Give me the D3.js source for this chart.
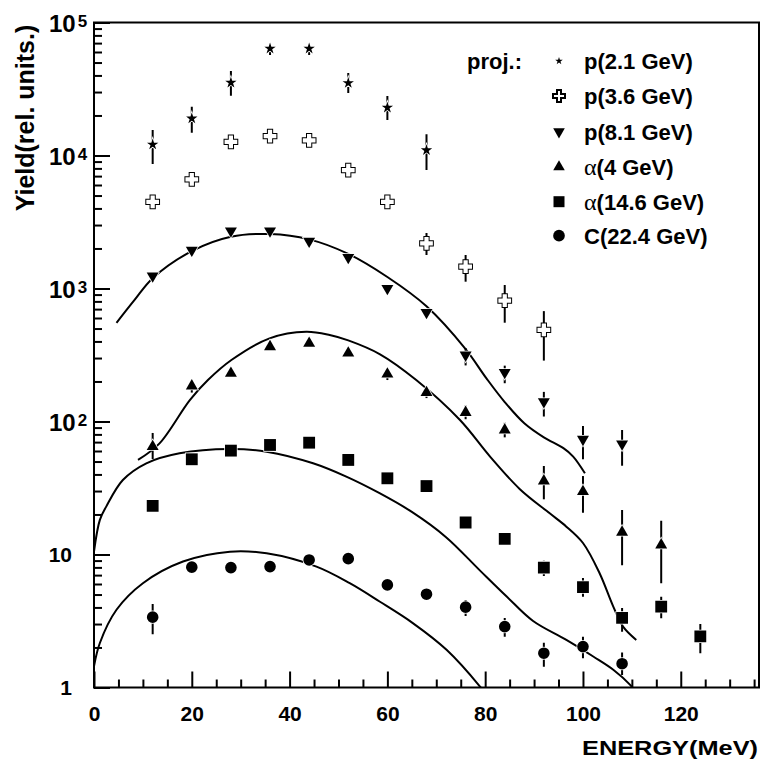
<!DOCTYPE html>
<html>
<head>
<meta charset="utf-8">
<script src="https://cdn.jsdelivr.net/npm/d3@7"></script>
<style>
    body { margin: 0; background: #fff; }
    svg { display: block; font-family: "Liberation Sans", Arial, sans-serif; font-weight: bold; }
</style>
</head>
<body>
<svg id="chart" width="761" height="765"></svg>
<script>
// measured points, energy in MeV, yield in relative units
const p21Energy = [12, 20, 28, 36, 44, 52, 60, 68];
const p21Yield = [12100, 19000, 35300, 63700, 63700, 35100, 22900, 10960];
const p21Lo = [8630, 14830, 28170, 57000, 57000, 29500, 18500, 7780];
const p21Hi = [15560, 23280, 43200, 67700, 67700, 41700, 28000, 14430];

const p36Energy = [12, 20, 28, 36, 44, 52, 60, 68, 76, 84, 92];
const p36Yield = [4480, 6620, 12650, 13960, 13000, 7760, 4480, 2188, 1459, 810, 488];
const p36Lo = [null, null, null, null, null, null, null, 1787, 1125, 553, 287];
const p36Hi = [null, null, null, null, null, null, null, 2612, 1787, 1062, 676];

const p81Energy = [12, 20, 28, 36, 44, 52, 60, 68, 76, 84, 92, 100, 108];
const p81Yield = [1245, 1942, 2714, 2714, 2270, 1712, 1002, 661, 316, 234, 141, 73.5, 67.8];
const p81Lo = [null, null, null, null, null, null, null, null, 264, 194, 109, 52, 46.5];
const p81Hi = [null, null, null, null, null, null, null, null, 357, 263, 167, 92.5, 86.3];

const a4Energy = [12, 20, 28, 36, 44, 52, 60, 68, 76, 84, 92, 100, 108, 116];
const a4Yield = [64.7, 185, 230, 365, 387, 327, 227, 165, 117, 86.3, 35.7, 29.7, 14.7, 11.8];
const a4Lo = [52.2, 165, null, null, null, null, 205, 150, 104, 76, 26, 20.6, 8.3, 6.07];
const a4Hi = [82, 205, null, null, null, null, 250, 182, 132, 98, 46.3, 38.9, 21.6, 17.9];

const a146Energy = [12, 20, 28, 36, 44, 52, 60, 68, 76, 84, 92, 100, 108, 116, 124];
const a146Yield = [23.2, 52, 60.4, 66.6, 69.3, 51.4, 37.4, 32.7, 17.4, 13.1, 7.97, 5.68, 3.34, 4.06, 2.42];
const a146Lo = [null, null, null, null, null, null, null, null, null, null, 6.89, 4.82, 2.63, 3.31, 1.81];
const a146Hi = [null, null, null, null, null, null, null, null, null, null, 8.98, 6.66, 3.96, 4.82, 3.0];

const c224Energy = [12, 20, 28, 36, 44, 52, 60, 68, 76, 84, 92, 100, 108];
const c224Yield = [3.38, 8.03, 7.97, 8.11, 9.1, 9.31, 5.91, 5.03, 4.02, 2.87, 1.81, 2.03, 1.51];
const c224Lo = [2.51, null, null, null, null, null, null, null, 3.45, 2.41, 1.43, 1.66, 1.24];
const c224Hi = [4.25, null, null, null, null, null, null, null, 4.55, 3.33, 2.17, 2.41, 1.83];

// calculated curves as [energy, yield]
const curveP81 = [[4.6, 552], [8.3, 820], [12, 1195], [20, 1910], [28, 2450], [36, 2565], [44, 2340],
    [52, 1820], [60, 1220], [68, 735], [76, 350], [80.3, 210], [84, 140], [88, 97], [92, 76],
    [96, 63], [98, 54.5], [100.4, 40.8]];
const curveA4 = [[9, 51.4], [13.4, 68.5], [19.6, 145], [23.3, 205], [28.1, 290], [35.9, 422],
    [43.4, 473], [48.2, 447], [52, 407], [58.5, 320], [65.9, 205], [74.8, 103],
    [81, 54.5], [87.1, 31], [93.2, 20.4], [96.6, 16.2], [100, 12.2],
    [103.4, 7.23], [106.2, 4.06], [108.2, 2.87], [110.9, 2.28]];
const curveA146 = [[0, 10.5], [1.2, 18.2], [2.5, 22.9], [5.9, 36.3], [10.7, 48.5], [17.5, 57.7],
    [27.8, 62.1], [35.3, 59.3], [44.8, 48.5], [51.6, 38.5], [58.4, 28.9], [65, 20.9],
    [72, 13.5], [78.9, 7.6], [84.4, 4.83], [89.8, 3.16], [96.6, 2.28], [102.1, 1.71],
    [106.2, 1.36], [109.6, 1.05], [111, 0.9]];
const curveC224 = [[0, 1.44], [1.2, 2.16], [4.6, 3.84], [10, 6.08], [18.2, 8.85], [27.8, 10.5],
    [35.3, 10.2], [45.5, 8.1], [52.3, 6.08], [58.4, 4.43], [65.2, 3.05], [72.1, 1.92],
    [78.9, 1.02], [80, 0.9]];

const xMajorTicks = [0, 20, 40, 60, 80, 100, 120];
const yMajorTicks = [1, 10, 100, 1000, 10000, 100000];

const legendTitle = "proj.:";

function buildSeries(name, energy, yields, lo, hi, marker) {
    let points = [];
    for (let i = 0; i < energy.length; i++) {
        points.push({ e: energy[i], v: yields[i], lo: lo[i], hi: hi[i] });
    }
    return { name: name, points: points, marker: marker };
}

let series = [
    buildSeries("p(2.1 GeV)", p21Energy, p21Yield, p21Lo, p21Hi, "star"),
    buildSeries("p(3.6 GeV)", p36Energy, p36Yield, p36Lo, p36Hi, "cross"),
    buildSeries("p(8.1 GeV)", p81Energy, p81Yield, p81Lo, p81Hi, "down"),
    buildSeries("α(4 GeV)", a4Energy, a4Yield, a4Lo, a4Hi, "up"),
    buildSeries("α(14.6 GeV)", a146Energy, a146Yield, a146Lo, a146Hi, "square"),
    buildSeries("C(22.4 GeV)", c224Energy, c224Yield, c224Lo, c224Hi, "circle")
];
let curves = [curveP81, curveA4, curveA146, curveC224];

let svg = d3.select("#chart");
let plotLeft = 94, plotRight = 759, plotTop = 22.5, plotBottom = 687.5;

let x = d3.scaleLinear().domain([0, 136]).range([plotLeft, plotRight]);
let y = d3.scaleLog().domain([1, 1e5]).range([plotBottom, plotTop]);

svg.append("defs").append("clipPath")
    .attr("id", "plot-clip")
    .append("rect")
    .attr("x", plotLeft).attr("y", plotTop)
    .attr("width", plotRight - plotLeft).attr("height", plotBottom - plotTop);

// marker shapes
function markerPath(kind, small) {
    if (kind == "star") return d3.symbol(d3.symbolStar, small ? 18 : 40)();
    if (kind == "cross") return d3.symbol(d3.symbolCross, small ? 80 : 90)();
    if (kind == "down" || kind == "up") return d3.symbol(d3.symbolTriangle, small ? 58 : 62)();
    if (kind == "square") return d3.symbol(d3.symbolSquare, small ? 121 : 140)();
    return d3.symbol(d3.symbolCircle, small ? 107 : 106)();
}
function markerRotation(kind) {
    return kind == "down" ? " rotate(180)" : "";
}

// axes, ticks point inward
let minorX = d3.range(0, 136, 5).filter(function(d) { return d % 20 != 0; });
svg.append("g")
    .attr("transform", "translate(0," + plotBottom + ")")
    .call(d3.axisBottom(x).tickValues(minorX).tickSize(-8).tickFormat(""))
    .call(function(g) { g.select(".domain").remove(); })
    .selectAll("line").attr("stroke", "#000").attr("stroke-width", 2);

let xAxisG = svg.append("g")
    .attr("transform", "translate(0," + plotBottom + ")")
    .call(d3.axisBottom(x).tickValues(xMajorTicks).tickSize(-16).tickPadding(19).tickFormat(d3.format("d")));
xAxisG.select(".domain").remove();
xAxisG.selectAll("line").attr("stroke", "#000").attr("stroke-width", 2);
xAxisG.selectAll("text")
    .attr("fill", "#000")
    .style("font-size", "21px")
    .style("font-weight", "bold")
    .style("font-family", "'Liberation Sans', Arial, sans-serif");

let minorY = [];
for (let dec = 1; dec < 1e5; dec *= 10) {
    for (let m = 2; m < 10; m++) minorY.push(m * dec);
}
svg.append("g")
    .attr("transform", "translate(" + plotLeft + ",0)")
    .call(d3.axisLeft(y).tickValues(minorY).tickSize(-8).tickFormat(""))
    .call(function(g) { g.select(".domain").remove(); })
    .selectAll("line").attr("stroke", "#000").attr("stroke-width", 2);

let yAxisG = svg.append("g")
    .attr("transform", "translate(" + plotLeft + ",0)")
    .call(d3.axisLeft(y).tickValues(yMajorTicks).tickSize(-16).tickPadding(22).tickFormat(d3.format("d")));
yAxisG.select(".domain").remove();
yAxisG.selectAll("line").attr("stroke", "#000").attr("stroke-width", 2);
yAxisG.selectAll("text")
    .attr("fill", "#000")
    .style("font-size", "21px")
    .style("font-weight", "bold")
    .style("font-family", "'Liberation Sans', Arial, sans-serif")
    .each(function(d) {
        let power = Math.round(Math.log10(d));
        if (power < 2) return;
        let t = d3.select(this);
        t.text(null)
            .attr("x", -45)
            .attr("dy", "0.36em")
            .attr("text-anchor", "start")
            .style("font-size", "24px");
        t.append("tspan").text("10");
        t.append("tspan")
            .attr("dx", 2)
            .attr("dy", -5)
            .style("font-size", "17px")
            .text(power);
    });

// frame
svg.append("rect")
    .attr("x", plotLeft).attr("y", plotTop)
    .attr("width", plotRight - plotLeft).attr("height", plotBottom - plotTop)
    .attr("fill", "none")
    .attr("stroke", "#000")
    .attr("stroke-width", 2);

// curves
let line = d3.line()
    .x(function(d) { return x(d[0]); })
    .y(function(d) { return y(d[1]); })
    .curve(d3.curveCatmullRom.alpha(0.5));

let plot = svg.append("g").attr("clip-path", "url(#plot-clip)");
plot.selectAll("path.fit")
    .data(curves)
    .enter().append("path")
    .attr("class", "fit")
    .attr("d", line)
    .attr("fill", "none")
    .attr("stroke", "#000")
    .attr("stroke-width", 2);

// error bars then markers, with a thin white rim like the original
for (let s of series) {
    let g = plot.append("g");
    g.selectAll("line.err")
        .data(s.points.filter(function(p) { return p.lo != null; }))
        .enter().append("line")
        .attr("class", "err")
        .attr("x1", function(p) { return x(p.e); })
        .attr("x2", function(p) { return x(p.e); })
        .attr("y1", function(p) { return y(p.lo); })
        .attr("y2", function(p) { return y(p.hi); })
        .attr("stroke", "#000")
        .attr("stroke-width", 2);

    let isCross = s.marker == "cross";
    g.selectAll("path.mark")
        .data(s.points)
        .enter().append("path")
        .attr("class", "mark")
        .attr("d", markerPath(s.marker, false))
        .attr("transform", function(p) {
            return "translate(" + x(p.e) + "," + y(p.v) + ")" + markerRotation(s.marker);
        })
        .attr("fill", isCross ? "#fff" : "#000")
        .attr("stroke", isCross ? "#000" : "#fff")
        .attr("stroke-width", isCross ? 2 : 1.5)
        .style("paint-order", "stroke");
}

// legend
let legendRows = [61, 96, 131.7, 167, 201.7, 235.7];
svg.append("text")
    .attr("x", 467)
    .attr("y", legendRows[0] + 8)
    .style("font-size", "22px")
    .text(legendTitle);

for (let i = 0; i < series.length; i++) {
    let s = series[i];
    svg.append("path")
        .attr("d", markerPath(s.marker, true))
        .attr("transform", "translate(559," + legendRows[i] + ")" + markerRotation(s.marker))
        .attr("fill", s.marker == "cross" ? "#fff" : "#000")
        .attr("stroke", s.marker == "cross" ? "#000" : "none")
        .attr("stroke-width", 2);

    let label = svg.append("text")
        .attr("x", 584)
        .attr("y", legendRows[i] + 8)
        .style("font-size", "22px");
    if (s.name.charAt(0) == "α") {
        label.append("tspan")
            .style("font-family", "'Liberation Serif', 'Times New Roman', serif")
            .style("font-weight", "normal")
            .style("font-size", "24px")
            .text("α");
        label.append("tspan").text(s.name.slice(1));
    } else {
        label.text(s.name);
    }
}

// axis titles
svg.append("text")
    .attr("x", 758)
    .attr("y", 755)
    .attr("text-anchor", "end")
    .attr("textLength", 176)
    .attr("lengthAdjust", "spacingAndGlyphs")
    .style("font-size", "21px")
    .text("ENERGY(MeV)");

svg.append("text")
    .attr("transform", "translate(33.5,118) rotate(-90)")
    .attr("text-anchor", "middle")
    .style("font-size", "25px")
    .text("Yield(rel. units.)");
</script>
</body>
</html>
